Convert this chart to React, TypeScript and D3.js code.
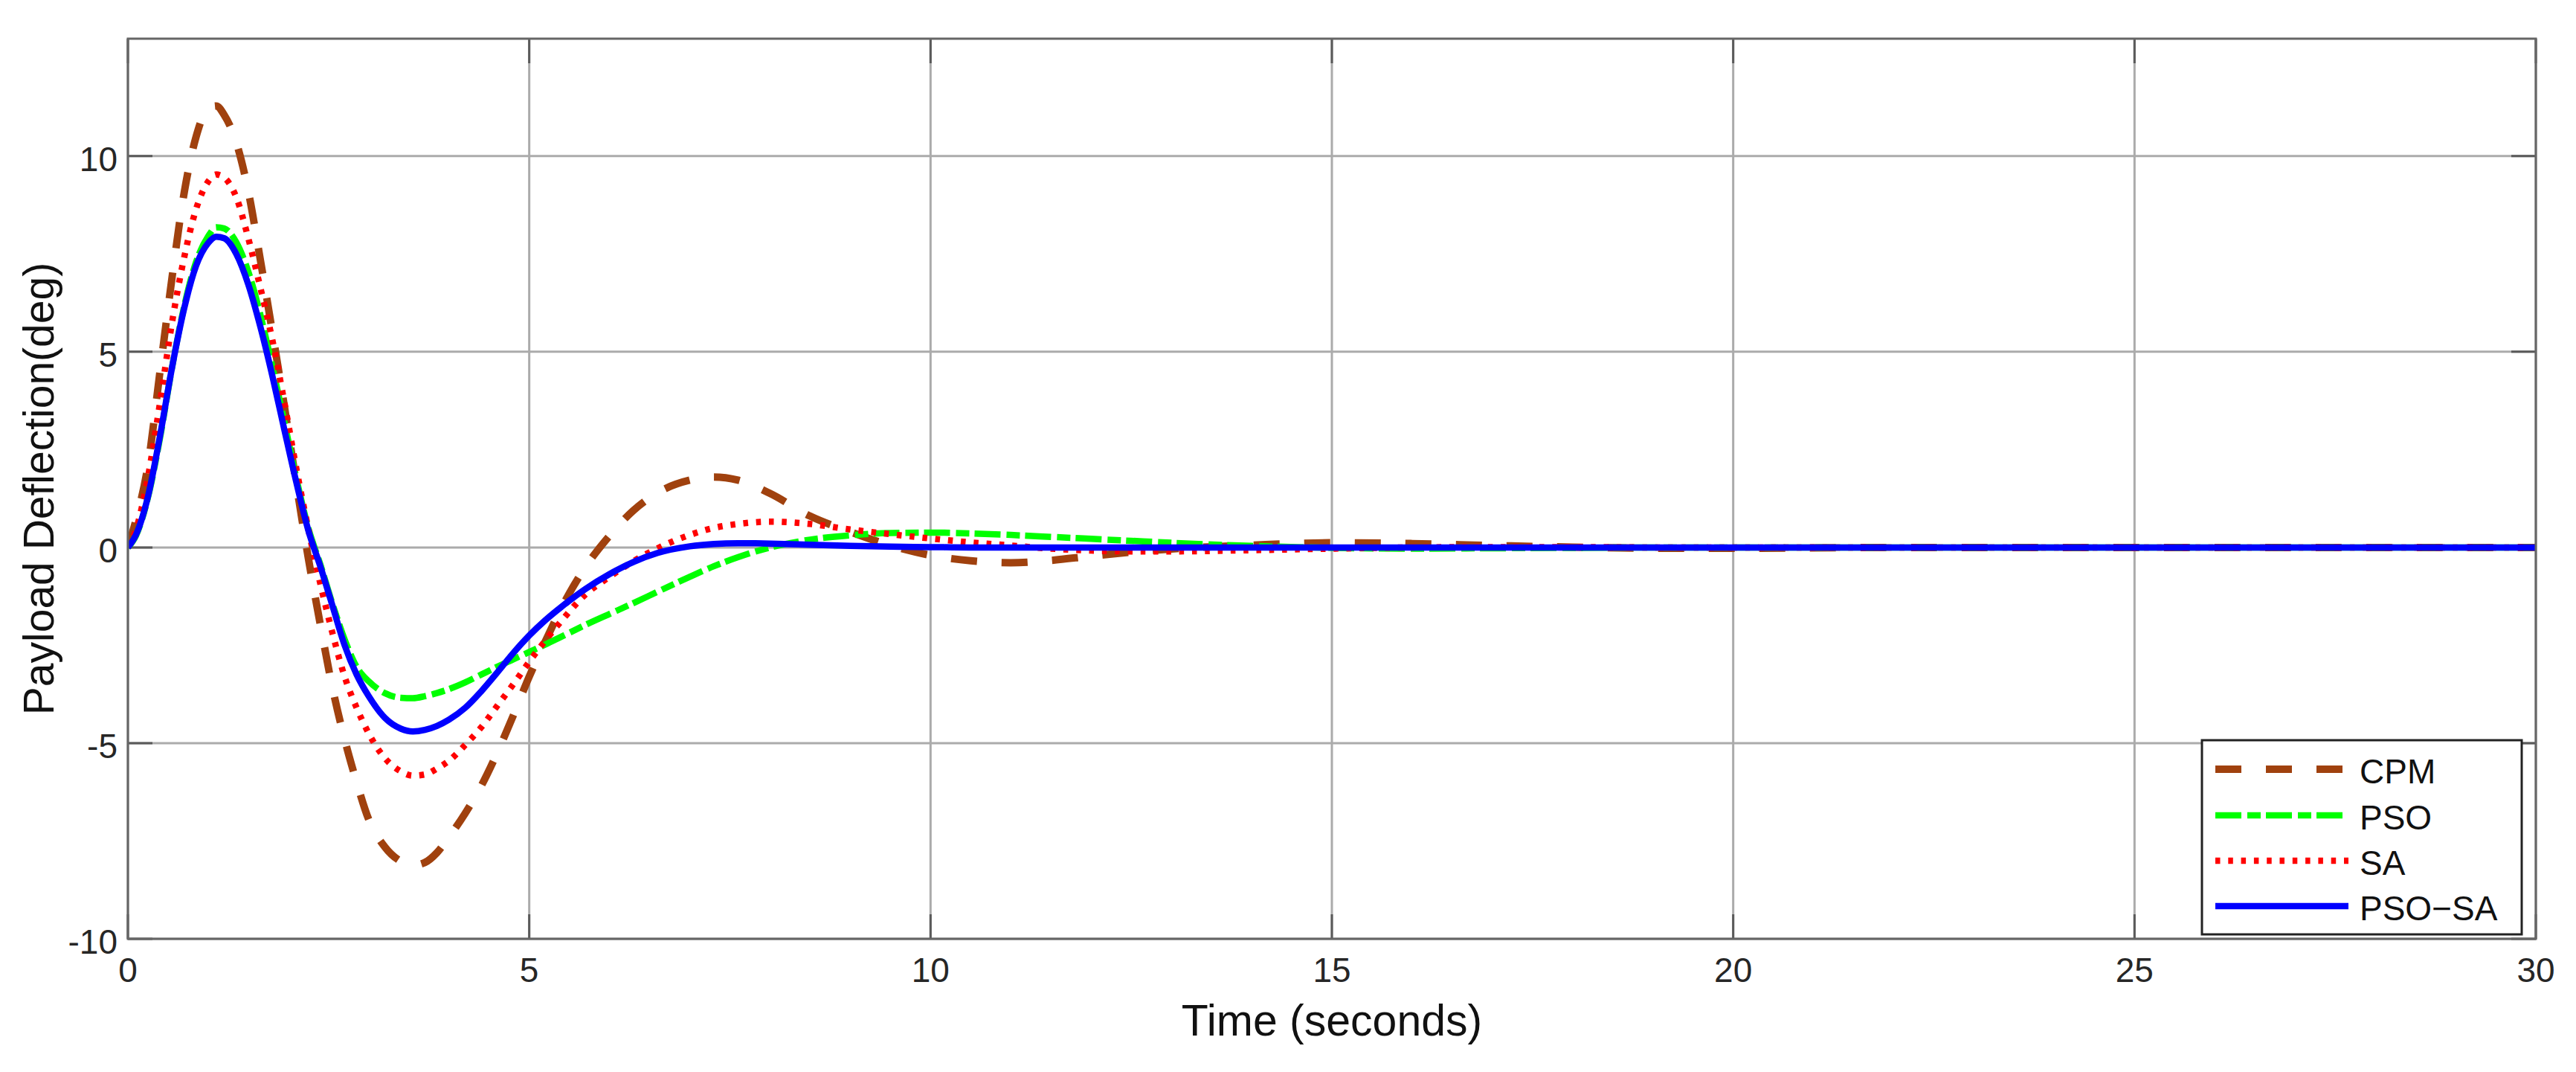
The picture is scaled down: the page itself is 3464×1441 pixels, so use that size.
import React from "react";
import * as d3 from "d3";

// ---- data ----
const time = [0, 0.1, 0.25, 0.4, 0.55, 0.7, 0.85, 1.0, 1.1, 1.2, 1.35, 1.5, 1.65, 1.8, 1.95, 2.1, 2.25, 2.4, 2.55, 2.7, 2.85, 3.0, 3.2, 3.4, 3.55, 3.7, 3.85, 4.0, 4.2, 4.4, 4.6, 4.8, 5.0, 5.2, 5.4, 5.7, 6.0, 6.3, 6.6, 7.0, 7.3, 7.6, 8.0, 8.5, 9.0, 9.5, 10, 10.5, 11, 11.5, 12, 12.5, 13, 14, 15, 16, 17, 18, 19, 20, 22, 25, 30];

const cpm = [0, 0.7, 2.1, 4.5, 6.9, 9.05, 10.5, 11.22, 11.28, 11.05, 10.35, 9.1, 7.35, 5.5, 3.6, 1.6,
  -0.3, -2.0, -3.6, -4.9, -6.0,
  -6.95, -7.65, -8.02, -8.12, -8.05, -7.8,
  -7.4, -6.8, -6.1, -5.25, -4.3,
  -3.3, -2.4, -1.55, -0.5,
  0.3, 0.95, 1.4,
  1.72, 1.8, 1.72,
  1.38, 0.8,
  0.4, 0.05,
  -0.2, -0.34,
  -0.39, -0.33,
  -0.22, -0.12,
  -0.04, 0.06, 0.12, 0.1, 0.05, 0.01, -0.02, -0.02,
  0, 0, 0];

const pso = [0, 0.3, 1.28, 2.8, 4.6, 6.15, 7.3, 7.95, 8.18, 8.15, 7.8, 7.05, 5.95, 4.62, 3.2, 1.75,
  0.48, -0.45, -1.45, -2.35, -3.05,
  -3.42, -3.72, -3.84, -3.85, -3.8, -3.72,
  -3.62, -3.45, -3.25, -3.05, -2.86,
  -2.67, -2.48, -2.28, -1.98,
  -1.7, -1.42, -1.13,
  -0.75, -0.48, -0.25,
  0.0, 0.2,
  0.31, 0.37,
  0.38, 0.36,
  0.32, 0.27,
  0.22, 0.17,
  0.12, 0.04, -0.01, -0.03, -0.02, -0.01, 0, 0,
  0, 0, 0];

const sa = [0, 0.45, 1.8, 3.7, 5.75, 7.4, 8.65, 9.35, 9.53, 9.45, 8.95, 7.9, 6.64, 5.3, 3.7, 2.0,
  0.45, -0.95, -2.2, -3.3, -4.1,
  -4.75, -5.38, -5.72, -5.83, -5.8, -5.65,
  -5.45, -5.05, -4.6, -4.05, -3.5,
  -2.92, -2.38, -1.88, -1.2,
  -0.75, -0.35, -0.02,
  0.32, 0.5, 0.6,
  0.66, 0.6,
  0.46, 0.34,
  0.23, 0.13,
  0.05, -0.03,
  -0.08, -0.1,
  -0.1, -0.07, -0.03, 0, 0.01, 0.01, 0, 0,
  0, 0, 0];

const psoSa = [0, 0.32, 1.3, 2.85, 4.6, 6.1, 7.2, 7.78, 7.94, 7.9, 7.5, 6.72, 5.64, 4.38, 3.0, 1.65,
  0.42, -0.5, -1.5, -2.5, -3.25,
  -3.8, -4.35, -4.63, -4.7, -4.66, -4.56,
  -4.4, -4.1, -3.68, -3.2, -2.7,
  -2.25, -1.86, -1.52, -1.06,
  -0.68, -0.37, -0.14,
  0.03, 0.09, 0.11,
  0.1, 0.07,
  0.04, 0.02,
  0.01, 0,
  0, 0, 0, 0, 0, 0, 0, 0, 0, 0, 0, 0, 0, 0, 0];

const seriesNames = ["CPM", "PSO", "SA", "PSO\u2212SA"];
const seriesValues = [cpm, pso, sa, psoSa];
const xTicks = [0, 5, 10, 15, 20, 25, 30];
const yTicks = [-10, -5, 0, 5, 10];
const xLabel = "Time (seconds)";
const yLabel = "Payload Deflection(deg)";

// ---- styles ----
const seriesStyles = [
  { color: "#A0410E", width: 10, dash: "35 33" },
  { color: "#00FF00", width: 8.5, dash: "35 8 18 7" },
  { color: "#FF0000", width: 8.5, dash: "6.5 10.8" },
  { color: "#0000FF", width: 8.5, dash: "none" },
];

const W = 3464;
const H = 1441;
const M = { left: 172, right: 3410, top: 52, bottom: 1262 };
const FONT = "'Liberation Sans', Arial, Helvetica, sans-serif";

export default function App() {
  const x = d3.scaleLinear().domain([0, 30]).range([M.left, M.right]);
  const y = d3.scaleLinear().domain([-10, 13]).range([M.bottom, M.top]);

  const line = d3
    .line<number>()
    .x((_, i) => x(time[i]))
    .y((d) => y(d))
    .curve(d3.curveMonotoneX);

  const tickLen = 33;
  const legend = { x: 2961, y: 995, w: 430, h: 261 };
  const rowY = [1034, 1096, 1157, 1218];

  return (
    <svg
      width={W}
      height={H}
      style={{ position: "absolute", left: 0, top: 0, display: "block", background: "#fff" }}
      fontFamily={FONT}
    >
      <rect x={0} y={0} width={W} height={H} fill="#fff" />
      <defs>
        <clipPath id="plotClip">
          <rect x={M.left} y={M.top} width={M.right - M.left} height={M.bottom - M.top} />
        </clipPath>
      </defs>

      {/* grid */}
      <g stroke="#ababab" strokeWidth={3}>
        {xTicks.map((t) => (
          <line key={"gx" + t} x1={x(t)} x2={x(t)} y1={M.top} y2={M.bottom} />
        ))}
        {yTicks.map((t) => (
          <line key={"gy" + t} x1={M.left} x2={M.right} y1={y(t)} y2={y(t)} />
        ))}
      </g>

      {/* ticks */}
      <g stroke="#5a5a5a" strokeWidth={3}>
        {xTicks.map((t) => (
          <g key={"tx" + t}>
            <line x1={x(t)} x2={x(t)} y1={M.bottom} y2={M.bottom - tickLen} />
            <line x1={x(t)} x2={x(t)} y1={M.top} y2={M.top + tickLen} />
          </g>
        ))}
        {yTicks.map((t) => (
          <g key={"ty" + t}>
            <line x1={M.left} x2={M.left + tickLen} y1={y(t)} y2={y(t)} />
            <line x1={M.right} x2={M.right - tickLen} y1={y(t)} y2={y(t)} />
          </g>
        ))}
      </g>

      {/* series */}
      <g clipPath="url(#plotClip)" fill="none">
        {seriesValues.map((vals, i) => (
          <path
            key={seriesNames[i]}
            d={line(vals) || ""}
            stroke={seriesStyles[i].color}
            strokeWidth={seriesStyles[i].width}
            strokeDasharray={seriesStyles[i].dash}
            strokeLinecap="butt"
            strokeLinejoin="round"
          />
        ))}
      </g>

      {/* axes box */}
      <rect
        x={M.left}
        y={M.top}
        width={M.right - M.left}
        height={M.bottom - M.top}
        fill="none"
        stroke="#666"
        strokeWidth={3}
      />

      {/* tick labels */}
      <g fontSize={46} fill="#262626">
        {xTicks.map((t) => (
          <text key={"lx" + t} x={x(t)} y={1320} textAnchor="middle">
            {t}
          </text>
        ))}
        {yTicks.map((t) => (
          <text key={"ly" + t} x={158} y={y(t) + 20} textAnchor="end">
            {t}
          </text>
        ))}
      </g>

      {/* axis labels */}
      <text x={(M.left + M.right) / 2} y={1392} textAnchor="middle" fontSize={59} fill="#111">
        {xLabel}
      </text>
      <text
        transform={`translate(72, ${(M.top + M.bottom) / 2}) rotate(-90)`}
        textAnchor="middle"
        fontSize={57}
        fill="#111"
      >
        {yLabel}
      </text>

      {/* legend */}
      <g>
        <rect
          x={legend.x}
          y={legend.y}
          width={legend.w}
          height={legend.h}
          fill="#fff"
          stroke="#222"
          strokeWidth={3}
        />
        {seriesNames.map((name, i) => (
          <g key={"lg" + name}>
            <line
              x1={2979}
              x2={i < 2 ? 3150 : 3158}
              y1={rowY[i]}
              y2={rowY[i]}
              stroke={seriesStyles[i].color}
              strokeWidth={seriesStyles[i].width}
              strokeDasharray={seriesStyles[i].dash}
            />
            <text x={3173} y={rowY[i] + 19} fontSize={46} fill="#111">
              {name}
            </text>
          </g>
        ))}
      </g>
    </svg>
  );
}
